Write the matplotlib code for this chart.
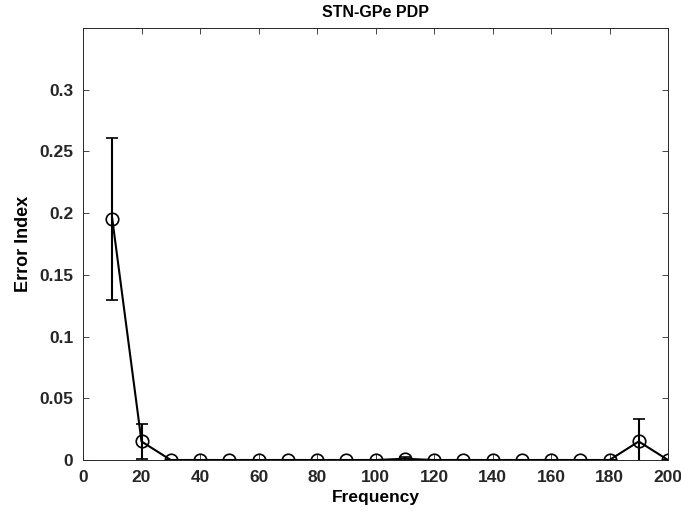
import matplotlib
matplotlib.use('Agg')
import matplotlib.pyplot as plt
from matplotlib.ticker import FuncFormatter

freq = [10, 20, 30, 40, 50, 60, 70, 80, 90, 100, 110, 120, 130, 140, 150, 160, 170, 180, 190, 200]
err_index = [0.1955, 0.015, 0, 0, 0, 0, 0, 0, 0, 0, 0.001, 0, 0, 0, 0, 0, 0, 0, 0.015, 0]
err_sd = [0.0655, 0.014, 0, 0, 0, 0, 0, 0, 0, 0, 0.0015, 0, 0, 0, 0, 0, 0, 0, 0.018, 0]
xticks = list(range(0, 201, 20))
yticks = [0, 0.05, 0.1, 0.15, 0.2, 0.25, 0.3]

plt.rcParams['font.family'] = ['Liberation Sans', 'DejaVu Sans']
plt.rcParams['font.weight'] = 'bold'

fig = plt.figure(figsize=(6.81, 5.16), dpi=100)
ax = fig.add_axes([83 / 681, 1 - 460 / 516, (668 - 83) / 681, (460 - 28) / 516])

ax.errorbar(freq, err_index, yerr=err_sd, color='black', lw=1.5, marker='o',
            markersize=9, markerfacecolor='none', markeredgewidth=1.2,
            capsize=4.5, elinewidth=1.5, capthick=1.5)

ax.set_xlim(0, 200)
ax.set_ylim(0, 0.35)
ax.set_xticks(xticks)
ax.set_yticks(yticks)
ax.yaxis.set_major_formatter(FuncFormatter(lambda v, p: f'{v:g}'))
ax.tick_params(direction='in', length=4, width=0.6, labelsize=12.5, colors='#262626',
               labelcolor='#262626', top=True, right=True)
ax.tick_params(axis='x', pad=7)
ax.tick_params(axis='y', pad=7)
for lab in ax.get_xticklabels() + ax.get_yticklabels():
    lab.set_fontweight('bold')
for s in ax.spines.values():
    s.set_linewidth(0.7)
    s.set_color('#262626')

ax.set_xlabel('Frequency', fontsize=12.5, fontweight='bold', labelpad=4)
ax.set_ylabel('Error Index', fontsize=13, fontweight='bold', labelpad=5)
ax.set_title('STN-GPe PDP', fontsize=11.5, fontweight='bold', pad=8)

fig.savefig('out.png', dpi=100)
